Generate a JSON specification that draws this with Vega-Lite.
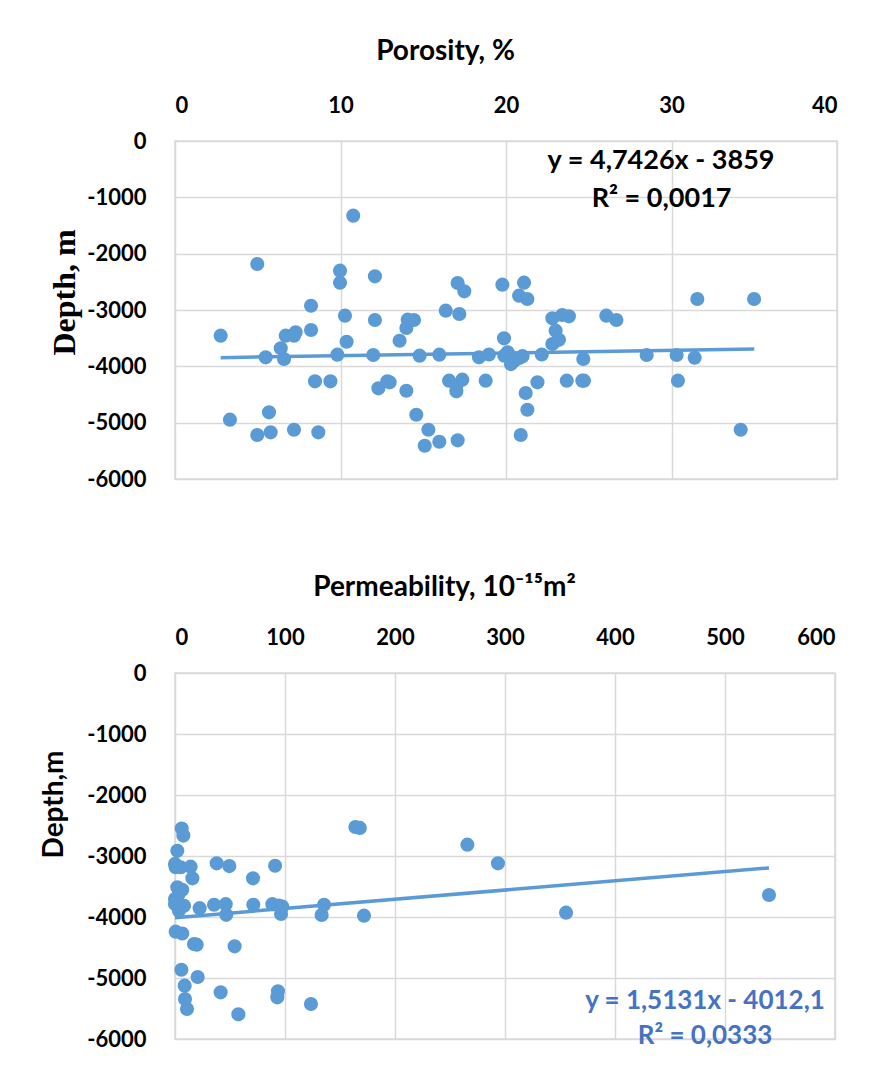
{
  "$schema": "https://vega.github.io/schema/vega-lite/v6.json",
  "background": "white",
  "padding": {"top": 36, "left": 39, "right": 10, "bottom": 10},
  "spacing": 81,
  "config": {
    "font": "Lato",
    "view": {"stroke": "#D9D9D9", "strokeWidth": 1.5},
    "axis": {
      "domain": false,
      "ticks": false,
      "tickSize": 0,
      "grid": true,
      "gridColor": "#D9D9D9",
      "gridWidth": 1.5,
      "labelFont": "Lato",
      "labelFontWeight": "bold",
      "labelFontSize": 22,
      "labelColor": "#000000",
      "titleColor": "#000000",
      "titleFontWeight": "bold"
    }
  },
  "datasets": {
    "porosity": [
      {"porosity": 10.77, "depth": -1326}, {"porosity": 4.97, "depth": -2184}, {"porosity": 9.97, "depth": -2302},
      {"porosity": 9.97, "depth": -2515}, {"porosity": 12.08, "depth": -2402}, {"porosity": 17.08, "depth": -2521},
      {"porosity": 17.48, "depth": -2669}, {"porosity": 19.78, "depth": -2550}, {"porosity": 21.09, "depth": -2515},
      {"porosity": 20.79, "depth": -2746}, {"porosity": 21.29, "depth": -2805}, {"porosity": 8.22, "depth": -2924},
      {"porosity": 10.27, "depth": -3101}, {"porosity": 12.08, "depth": -3178}, {"porosity": 14.06, "depth": -3172},
      {"porosity": 14.44, "depth": -3178}, {"porosity": 13.98, "depth": -3320}, {"porosity": 16.36, "depth": -3012},
      {"porosity": 17.18, "depth": -3071}, {"porosity": 2.76, "depth": -3456}, {"porosity": 6.69, "depth": -3456},
      {"porosity": 7.29, "depth": -3397}, {"porosity": 7.19, "depth": -3456}, {"porosity": 8.22, "depth": -3355},
      {"porosity": 10.37, "depth": -3563}, {"porosity": 13.57, "depth": -3545}, {"porosity": 19.88, "depth": -3503},
      {"porosity": 6.39, "depth": -3680}, {"porosity": 5.48, "depth": -3840}, {"porosity": 6.59, "depth": -3870},
      {"porosity": 9.81, "depth": -3793}, {"porosity": 11.98, "depth": -3799}, {"porosity": 14.78, "depth": -3811},
      {"porosity": 15.97, "depth": -3793}, {"porosity": 18.37, "depth": -3840}, {"porosity": 18.97, "depth": -3790},
      {"porosity": 20.1, "depth": -3750}, {"porosity": 19.9, "depth": -3811}, {"porosity": 20.5, "depth": -3900},
      {"porosity": 20.3, "depth": -3960}, {"porosity": 20.8, "depth": -3850}, {"porosity": 21.0, "depth": -3820},
      {"porosity": 8.46, "depth": -4266}, {"porosity": 9.39, "depth": -4266}, {"porosity": 12.29, "depth": -4390},
      {"porosity": 12.83, "depth": -4266}, {"porosity": 12.97, "depth": -4284}, {"porosity": 13.98, "depth": -4433},
      {"porosity": 16.56, "depth": -4255}, {"porosity": 17.36, "depth": -4237}, {"porosity": 17.0, "depth": -4344},
      {"porosity": 17.0, "depth": -4444}, {"porosity": 18.77, "depth": -4255}, {"porosity": 3.32, "depth": -4947},
      {"porosity": 5.68, "depth": -4817}, {"porosity": 4.97, "depth": -5219}, {"porosity": 5.78, "depth": -5172},
      {"porosity": 7.19, "depth": -5125}, {"porosity": 8.66, "depth": -5172}, {"porosity": 14.58, "depth": -4859},
      {"porosity": 15.31, "depth": -5125}, {"porosity": 15.09, "depth": -5409}, {"porosity": 15.97, "depth": -5338},
      {"porosity": 17.08, "depth": -5314}, {"porosity": 20.89, "depth": -5219}, {"porosity": 31.56, "depth": -2805},
      {"porosity": 34.99, "depth": -2805}, {"porosity": 22.8, "depth": -3148}, {"porosity": 23.4, "depth": -3089},
      {"porosity": 23.8, "depth": -3112}, {"porosity": 26.06, "depth": -3101}, {"porosity": 26.67, "depth": -3178},
      {"porosity": 23.0, "depth": -3367}, {"porosity": 23.2, "depth": -3530}, {"porosity": 22.8, "depth": -3604},
      {"porosity": 22.16, "depth": -3790}, {"porosity": 24.67, "depth": -3870}, {"porosity": 28.5, "depth": -3799},
      {"porosity": 30.31, "depth": -3799}, {"porosity": 31.4, "depth": -3846}, {"porosity": 21.9, "depth": -4284},
      {"porosity": 23.67, "depth": -4255}, {"porosity": 24.61, "depth": -4255}, {"porosity": 24.71, "depth": -4255},
      {"porosity": 30.39, "depth": -4255}, {"porosity": 21.19, "depth": -4474}, {"porosity": 21.29, "depth": -4770},
      {"porosity": 34.18, "depth": -5125}
    ],
    "porosityTrend": [
      {"porosity": 2.76, "depth": -3845.9},
      {"porosity": 35.0, "depth": -3693.0}
    ],
    "porosityLabel": [
      {"porosity": 29.37, "depth": -355, "text": "y = 4,7426x - 3859"},
      {"porosity": 29.4, "depth": -1030, "text": "R² = 0,0017"}
    ],
    "permeability": [
      {"perm": 6.1, "depth": -2550}, {"perm": 7.6, "depth": -2665}, {"perm": 2.1, "depth": -2915},
      {"perm": 0, "depth": -3130}, {"perm": 0.6, "depth": -3185}, {"perm": 5.2, "depth": -3185},
      {"perm": 14.2, "depth": -3175}, {"perm": 15.8, "depth": -3366}, {"perm": 37.9, "depth": -3120},
      {"perm": 49.4, "depth": -3165}, {"perm": 70.9, "depth": -3366}, {"perm": 91, "depth": -3160},
      {"perm": 2.1, "depth": -3514}, {"perm": 6.6, "depth": -3555}, {"perm": 3.6, "depth": -3620},
      {"perm": 0, "depth": -3705}, {"perm": 0, "depth": -3787}, {"perm": 3.6, "depth": -3841},
      {"perm": 8.2, "depth": -3815}, {"perm": 3.6, "depth": -3897}, {"perm": 22.4, "depth": -3855},
      {"perm": 35.5, "depth": -3800}, {"perm": 46.1, "depth": -3790}, {"perm": 46.6, "depth": -3965},
      {"perm": 71.2, "depth": -3800}, {"perm": 88.5, "depth": -3790}, {"perm": 94.5, "depth": -3814},
      {"perm": 97.6, "depth": -3830}, {"perm": 96.4, "depth": -3950}, {"perm": 135.5, "depth": -3800},
      {"perm": 133.3, "depth": -3967}, {"perm": 171.8, "depth": -3978}, {"perm": 0.6, "depth": -4240},
      {"perm": 6.6, "depth": -4270}, {"perm": 17.3, "depth": -4443}, {"perm": 19.7, "depth": -4454},
      {"perm": 54.2, "depth": -4481}, {"perm": 5.8, "depth": -4864}, {"perm": 20.6, "depth": -4984},
      {"perm": 8.8, "depth": -5126}, {"perm": 41.5, "depth": -5235}, {"perm": 93.6, "depth": -5219},
      {"perm": 93.0, "depth": -5317}, {"perm": 9.1, "depth": -5344}, {"perm": 10.9, "depth": -5508},
      {"perm": 57.6, "depth": -5596}, {"perm": 123.6, "depth": -5426}, {"perm": 164, "depth": -2525},
      {"perm": 168, "depth": -2540}, {"perm": 265.8, "depth": -2814}, {"perm": 293.6, "depth": -3120},
      {"perm": 355.5, "depth": -3929}, {"perm": 540, "depth": -3639}
    ],
    "permeabilityTrend": [
      {"perm": 0, "depth": -4012.1},
      {"perm": 540, "depth": -3195.0}
    ],
    "permeabilityLabel": [
      {"perm": 481.8, "depth": -5377, "text": "y = 1,5131x - 4012,1"},
      {"perm": 481.8, "depth": -5951, "text": "R² = 0,0333"}
    ]
  },
  "vconcat": [
    {
      "width": 662,
      "height": 338,
      "encoding": {
        "x": {
          "field": "porosity",
          "type": "quantitative",
          "scale": {"domain": [0, 40], "nice": false},
          "axis": {
            "orient": "top",
            "values": [0, 10, 20, 30, 40],
            "labelPadding": 24,
            "title": "Porosity, %",
            "titleFont": "Lato",
            "titleFontSize": 28,
            "titleX": 270,
            "titleY": -90,
            "titleAlign": "center",
            "titleBaseline": "middle"
          }
        },
        "y": {
          "field": "depth",
          "type": "quantitative",
          "scale": {"domain": [-6000, 0], "nice": false},
          "axis": {
            "values": [0, -1000, -2000, -3000, -4000, -5000, -6000],
            "labelExpr": "'' + datum.value",
            "labelPadding": 29,
            "title": "Depth, m",
            "titleFont": "Liberation Serif",
            "titleFontSize": 32,
            "titleAngle": -90,
            "titleX": -111,
            "titleY": 151,
            "titleAlign": "center",
            "titleBaseline": "middle"
          }
        }
      },
      "layer": [
        {
          "data": {"name": "porosity"},
          "mark": {"type": "circle", "size": 200, "color": "#5B9BD5", "opacity": 1}
        },
        {
          "data": {"name": "porosityTrend"},
          "mark": {"type": "line", "color": "#5B9BD5", "strokeWidth": 3.5}
        },
        {
          "data": {"name": "porosityLabel"},
          "mark": {"type": "text", "font": "Lato", "fontWeight": "bold", "fontSize": 27, "color": "#000000", "align": "center", "baseline": "middle"},
          "encoding": {"text": {"field": "text"}}
        }
      ]
    },
    {
      "width": 660,
      "height": 366,
      "encoding": {
        "x": {
          "field": "perm",
          "type": "quantitative",
          "scale": {"domain": [0, 600], "nice": false},
          "axis": {
            "orient": "top",
            "values": [0, 100, 200, 300, 400, 500, 600],
            "labelPadding": 24,
            "title": "Permeability, 10⁻¹⁵m²",
            "titleFont": "Lato",
            "titleFontSize": 28,
            "titleX": 269,
            "titleY": -86,
            "titleAlign": "center",
            "titleBaseline": "middle"
          }
        },
        "y": {
          "field": "depth",
          "type": "quantitative",
          "scale": {"domain": [-6000, 0], "nice": false},
          "axis": {
            "values": [0, -1000, -2000, -3000, -4000, -5000, -6000],
            "labelExpr": "'' + datum.value",
            "labelPadding": 29,
            "title": "Depth,m",
            "titleFont": "Lato",
            "titleFontSize": 28,
            "titleAngle": -90,
            "titleX": -121,
            "titleY": 131,
            "titleAlign": "center",
            "titleBaseline": "middle"
          }
        }
      },
      "layer": [
        {
          "data": {"name": "permeability"},
          "mark": {"type": "circle", "size": 200, "color": "#5B9BD5", "opacity": 1}
        },
        {
          "data": {"name": "permeabilityTrend"},
          "mark": {"type": "line", "color": "#5B9BD5", "strokeWidth": 3.5}
        },
        {
          "data": {"name": "permeabilityLabel"},
          "mark": {"type": "text", "font": "Lato", "fontWeight": "bold", "fontSize": 26, "color": "#4472C4", "align": "center", "baseline": "middle"},
          "encoding": {"text": {"field": "text"}}
        }
      ]
    }
  ]
}
